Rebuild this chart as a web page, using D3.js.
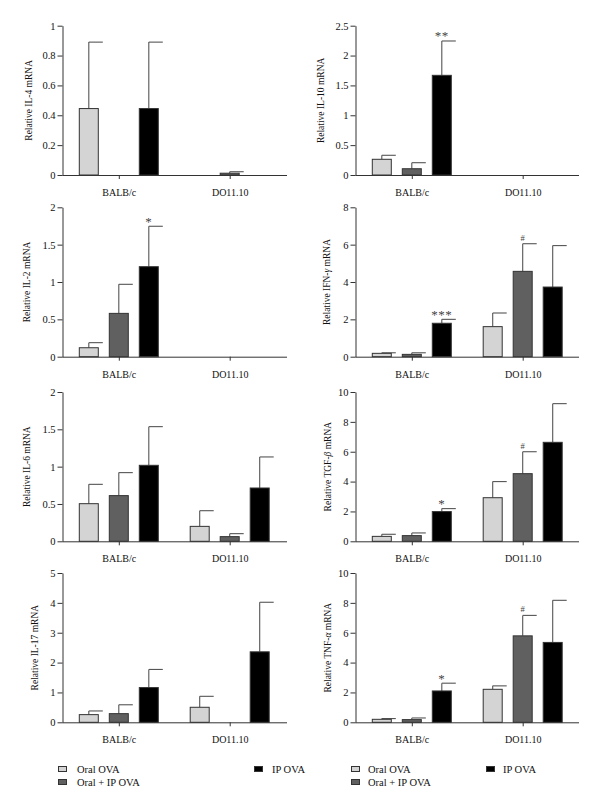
<!DOCTYPE html>
<html>
<head>
<meta charset="utf-8">
<script src="https://cdn.jsdelivr.net/npm/d3@7/dist/d3.min.js"></script>
<style>
  html, body { margin: 0; padding: 0; background: #fff; }
  svg { display: block; font-family: "Liberation Serif", "Times New Roman", serif; }
</style>
</head>
<body>
<svg id="chart" width="600" height="809"></svg>
<script>
// ---------------- DATA ----------------
const groups = ["BALB/c", "DO11.10"];
const seriesNames = ["Oral OVA", "Oral + IP OVA", "IP OVA"];

const panelLabels = [
  ["Relative IL-4 mRNA"],
  ["Relative IL-10 mRNA"],
  ["Relative IL-2 mRNA"],
  ["Relative IFN-", "γ", " mRNA"],
  ["Relative IL-6 mRNA"],
  ["Relative TGF-", "β", " mRNA"],
  ["Relative IL-17 mRNA"],
  ["Relative TNF-", "α", " mRNA"]
];

const ticksIL4  = [0, 0.2, 0.4, 0.6, 0.8, 1];
const ticksIL10 = [0, 0.5, 1, 1.5, 2, 2.5];
const ticksIL2  = [0, 0.5, 1, 1.5, 2];
const ticksIFN  = [0, 2, 4, 6, 8];
const ticksIL6  = [0, 0.5, 1, 1.5, 2];
const ticksTGF  = [0, 2, 4, 6, 8, 10];
const ticksIL17 = [0, 1, 2, 3, 4, 5];
const ticksTNF  = [0, 2, 4, 6, 8, 10];

// means: [group][series]  (0 = no bar)
const il4Mean  = [[0.445, 0, 0.445], [0, 0.012, 0]];
const il4Err   = [[0.445, 0, 0.445], [0, 0.010, 0]];
const il10Mean = [[0.263, 0.105, 1.669], [0, 0, 0]];
const il10Err  = [[0.067, 0.101, 0.575], [0, 0, 0]];
const il2Mean  = [[0.12, 0.58, 1.205], [0, 0, 0]];
const il2Err   = [[0.068, 0.389, 0.541], [0, 0, 0]];
const ifnMean  = [[0.18, 0.125, 1.79], [1.61, 4.57, 3.73]];
const ifnErr   = [[0.03, 0.085, 0.21], [0.73, 1.48, 2.22]];
const il6Mean  = [[0.504, 0.612, 1.018], [0.2, 0.0625, 0.714]];
const il6Err   = [[0.259, 0.308, 0.518], [0.21, 0.04, 0.416]];
const tgfMean  = [[0.33, 0.38, 1.99], [2.92, 4.53, 6.63]];
const tgfErr   = [[0.14, 0.18, 0.2], [1.08, 1.47, 2.59]];
const il17Mean = [[0.257, 0.29, 1.163], [0.503, 0, 2.36]];
const il17Err  = [[0.123, 0.297, 0.607], [0.367, 0, 1.66]];
const tnfMean  = [[0.2, 0.18, 2.1], [2.21, 5.79, 5.35]];
const tnfErr   = [[0.05, 0.11, 0.52], [0.23, 1.37, 2.82]];

// significance marks: [panel, group, series, label]
const sigMarks = [
  [1, 0, 2, "**"],
  [2, 0, 2, "*"],
  [3, 0, 2, "***"],
  [3, 1, 1, "#"],
  [5, 0, 2, "*"],
  [5, 1, 1, "#"],
  [7, 0, 2, "*"],
  [7, 1, 1, "#"]
];

const panelTicks = [ticksIL4, ticksIL10, ticksIL2, ticksIFN, ticksIL6, ticksTGF, ticksIL17, ticksTNF];
const panelMeans = [il4Mean, il10Mean, il2Mean, ifnMean, il6Mean, tgfMean, il17Mean, tnfMean];
const panelErrs  = [il4Err, il10Err, il2Err, ifnErr, il6Err, tgfErr, il17Err, tnfErr];

// ---------------- LAYOUT / STYLE ----------------
const colX0 = [62.5, 355.5];
const colX1 = [287, 579];
const rowTop = [25.7, 207.3, 392, 573];
const rowBot = [175, 356.7, 541.3, 722.3];
const labelX = [29, 321, 27, 327, 27, 328, 35, 328];
const fills = ["#d4d4d4", "#606060", "#000000"];
const barStroke = "#333";
const errColor = "#555";
const textColor = "#111";

const svg = d3.select("#chart");

panelTicks.forEach((ticks, p) => {
  const col = p % 2, row = Math.floor(p / 2);
  const x0 = colX0[col], x1 = colX1[col];
  const yTop = rowTop[row], yBot = rowBot[row];
  const yMax = ticks[ticks.length - 1];

  const y = d3.scaleLinear().domain([0, yMax]).range([yBot, yTop]);
  const x = d3.scalePoint().domain(groups).range([x0 + 56.3, x0 + 167.2]);
  const xs = d3.scaleBand().domain(seriesNames).range([-40, 40]).paddingInner(1 / 3).paddingOuter(0);

  const g = svg.append("g");

  const means = panelMeans[p], errs = panelErrs[p];
  groups.forEach((grp, gi) => {
    seriesNames.forEach((s, si) => {
      const v = means[gi][si];
      if (!v) return;
      const e = errs[gi][si];
      const bx = x(grp) + xs(s);
      const cx = bx + xs.bandwidth() / 2;
      g.append("line")
        .attr("x1", cx).attr("x2", cx)
        .attr("y1", y(v)).attr("y2", y(v + e))
        .attr("stroke", errColor).attr("stroke-width", 1.1);
      g.append("line")
        .attr("x1", cx).attr("x2", cx + 14)
        .attr("y1", y(v + e)).attr("y2", y(v + e))
        .attr("stroke", errColor).attr("stroke-width", 1.1);
      g.append("rect")
        .attr("x", bx + 0.5).attr("y", y(v))
        .attr("width", xs.bandwidth() - 1).attr("height", y(0) - y(v))
        .attr("fill", fills[si]).attr("stroke", barStroke).attr("stroke-width", 1);
    });
  });

  sigMarks.filter(m => m[0] === p).forEach(m => {
    const gi = m[1], si = m[2];
    const top = y(means[gi][si] + errs[gi][si]);
    const cx = x(groups[gi]) + xs(seriesNames[si]) + xs.bandwidth() / 2;
    const isHash = m[3] === "#";
    g.append("text")
      .attr("x", cx).attr("y", isHash ? top - 3 : top - 0.5)
      .attr("text-anchor", "middle")
      .attr("font-size", isHash ? 8.5 : 13)
      .attr("letter-spacing", isHash ? 0 : 0.5)
      .attr("fill", "#444")
      .text(m[3]);
  });

  const ya = g.append("g")
    .attr("transform", `translate(${x0},0)`)
    .call(d3.axisLeft(y).tickValues(ticks).tickSize(5).tickSizeOuter(0).tickPadding(2)
      .tickFormat(d3.format("~g")));
  ya.select(".domain").attr("stroke", "#333");
  ya.selectAll(".tick line").attr("stroke", "#333");
  ya.selectAll(".tick text").attr("font-size", 10.5).attr("fill", textColor)
    .attr("font-family", '"Liberation Serif", serif');

  const xa = g.append("g")
    .attr("transform", `translate(0,${yBot})`)
    .call(d3.axisBottom(x).tickSize(4).tickSizeOuter(0).tickPadding(10));
  xa.select(".domain").remove();
  xa.selectAll(".tick line").attr("stroke", "#333");
  xa.selectAll(".tick text").attr("font-size", 10).attr("fill", textColor)
    .attr("font-family", '"Liberation Serif", serif');
  g.append("line")
    .attr("x1", x0).attr("x2", x1).attr("y1", yBot + 0.5).attr("y2", yBot + 0.5)
    .attr("stroke", "#333");

  const yc = (yTop + yBot) / 2;
  const lab = g.append("text")
    .attr("transform", `translate(${labelX[p]},${yc}) rotate(-90)`)
    .attr("text-anchor", "middle")
    .attr("dy", "0.35em")
    .attr("font-size", 9.5)
    .attr("fill", textColor);
  panelLabels[p].forEach((part, i) => {
    lab.append("tspan").attr("font-style", i === 1 ? "italic" : null).text(part);
  });
});

// ---------------- LEGENDS ----------------
const legendLayout = [
  { sw: [58, 58, 254], tx: [77, 77, 272], yy: [769, 782, 769] },
  { sw: [351, 351, 486], tx: [368, 368, 503], yy: [769, 782, 769] }
];
legendLayout.forEach(L => {
  const lg = svg.append("g");
  seriesNames.forEach((s, i) => {
    lg.append("rect")
      .attr("x", L.sw[i] + 0.5).attr("y", L.yy[i] - 2.5)
      .attr("width", 8).attr("height", 5)
      .attr("fill", fills[i]).attr("stroke", barStroke).attr("stroke-width", 1);
    lg.append("text")
      .attr("x", L.tx[i]).attr("y", L.yy[i]).attr("dy", "0.35em")
      .attr("font-size", 10.5).attr("fill", textColor)
      .text(s);
  });
});
</script>
</body>
</html>
